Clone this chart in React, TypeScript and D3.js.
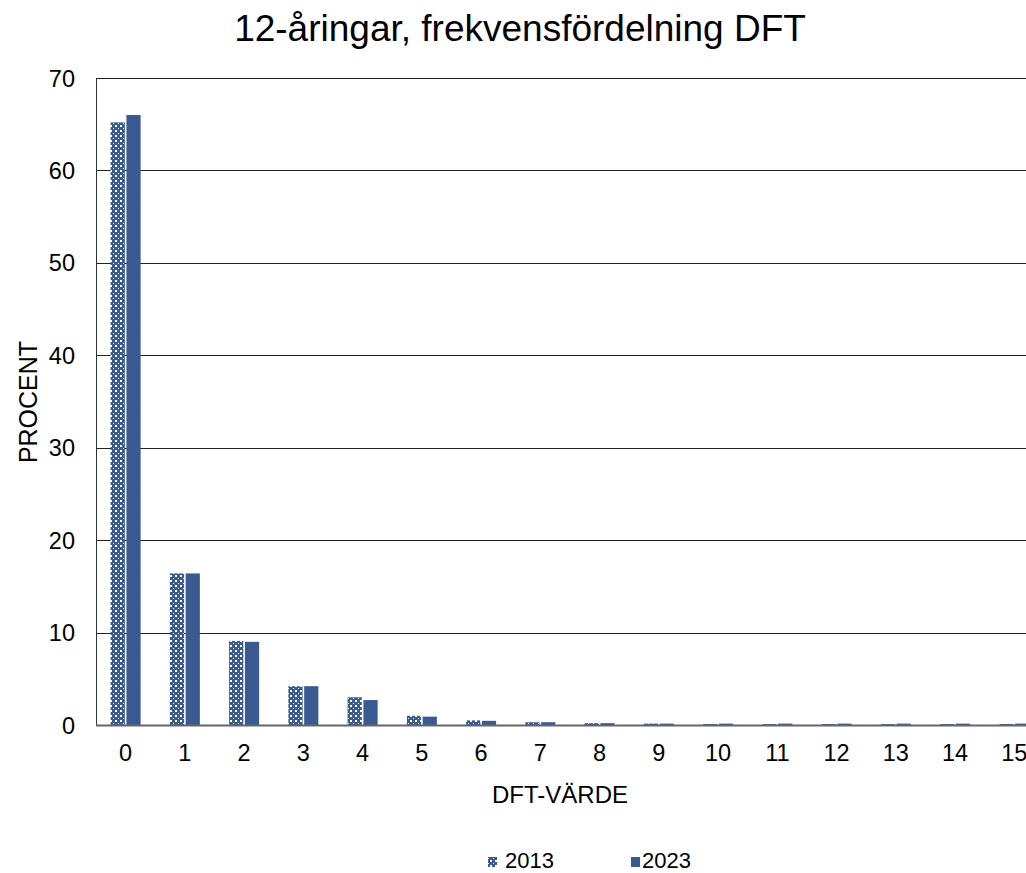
import React from "react";
import * as d3 from "d3";

const categories = ["0","1","2","3","4","5","6","7","8","9","10","11","12","13","14","15"];
const series2013 = [65.2, 16.4, 9.1, 4.2, 3.0, 1.0, 0.5, 0.3, 0.2, 0.15, 0.1, 0.1, 0.1, 0.1, 0.1, 0.1];
const series2023 = [66.0, 16.4, 9.0, 4.2, 2.7, 0.9, 0.45, 0.3, 0.2, 0.15, 0.15, 0.15, 0.15, 0.15, 0.15, 0.15];
const seriesNames = ["2013", "2023"];
const yTicks = [0, 10, 20, 30, 40, 50, 60, 70];

const W = 1026, H = 873;
const left = 96, right = 1044, top = 78, bottom = 725;
const BLUE = "#3A5B92";
const FONT = "Liberation Sans, Arial, sans-serif";

export default function App() {
  const x0 = d3.scaleBand<string>().domain(categories).range([left, right]).padding(0);
  const step = x0.step();
  const groupW = 30;
  const x1 = d3.scaleBand<string>().domain(seriesNames).range([0, groupW]).paddingInner(0.1);
  const y = d3.scaleLinear().domain([0, 70]).range([bottom, top]);
  const all = [series2013, series2023];

  return (
    <svg width={W} height={H} style={{ position: "absolute", left: 0, top: 0, background: "#fff" }}>
      <defs>
        <pattern id="p2013" width="5" height="5" patternUnits="userSpaceOnUse">
          <rect width="5" height="5" fill={BLUE} />
          <rect x="0" y="0" width="2" height="2" fill="#fff" />
          <rect x="3" y="3" width="1" height="1" fill="#fff" />
        </pattern>
      </defs>
      <rect width={W} height={H} fill="#fff" />
      <text x={520} y={41} textAnchor="middle" fontFamily={FONT} fontSize={37} fill="#000">
        12-åringar, frekvensfördelning DFT
      </text>
      {yTicks.filter(t => t > 0).map(t => (
        <line key={t} x1={left} x2={right} y1={Math.round(y(t)) + 0.5} y2={Math.round(y(t)) + 0.5} stroke="#222" strokeWidth={1} />
      ))}
      {yTicks.map(t => (
        <text key={t} x={75} y={y(t) + 8.5} textAnchor="end" fontFamily={FONT} fontSize={23.5} fill="#000">{t}</text>
      ))}
      {categories.map((c, i) => {
        const gx = x0(c)! + step / 2 - groupW / 2;
        return (
          <g key={c}>
            {all.map((s, j) => (
              <rect key={j}
                x={gx + x1(seriesNames[j])!}
                y={y(s[i])}
                width={x1.bandwidth()}
                height={bottom - y(s[i])}
                fill={j === 0 ? "url(#p2013)" : BLUE} />
            ))}
            <text x={x0(c)! + step / 2} y={761} textAnchor="middle" fontFamily={FONT} fontSize={23.5} fill="#000">{c}</text>
          </g>
        );
      })}
      <line x1={left + 0.5} x2={left + 0.5} y1={top} y2={bottom} stroke="#333" strokeWidth={1} />
      <line x1={left} x2={right} y1={bottom + 0.5} y2={bottom + 0.5} stroke="#666" strokeWidth={2} />
      <text x={560} y={803} textAnchor="middle" fontFamily={FONT} fontSize={24} fill="#000">DFT-VÄRDE</text>
      <text transform={`translate(37,402) rotate(-90)`} textAnchor="middle" fontFamily={FONT} fontSize={25} fill="#000">PROCENT</text>
      <rect x={488} y={857} width={9} height={10} fill="url(#p2013)" />
      <text x={505} y={868} fontFamily={FONT} fontSize={22} fill="#000">{seriesNames[0]}</text>
      <rect x={631} y={857} width={9} height={10} fill={BLUE} />
      <text x={642} y={868} fontFamily={FONT} fontSize={22} fill="#000">{seriesNames[1]}</text>
    </svg>
  );
}
